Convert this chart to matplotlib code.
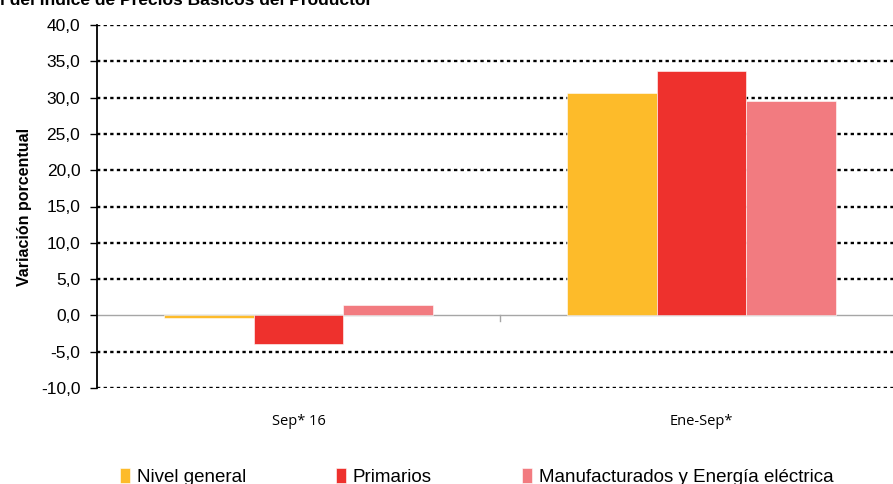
#! /usr/bin/env python3

"Variacion del Indice de Precios Basicos del Productor: barras agrupadas"

import numpy as np
import matplotlib
matplotlib.use("Agg")
import matplotlib.pyplot as plt

periodos = ["Sep* 16", "Ene-Sep*"]
series = ["Nivel general", "Primarios", "Manufacturados y Energía eléctrica"]
nivel_general = [-0.4, 30.7]
primarios = [-4.0, 33.6]
manufacturados = [1.4, 29.6]
colores = ["#FDBB2A", "#EE312D", "#F27B80"]
y_ticks = np.arange(-10, 45, 5)


def grafico():
    plt.rcParams["font.family"] = ["Liberation Sans", "DejaVu Sans"]
    fig = plt.figure(figsize=(8.93, 4.84), dpi=100)
    ax = fig.add_axes([97 / 893, 96 / 484, 806 / 893, 363 / 484])

    x = np.arange(len(periodos))
    ancho = 0.222
    valores = [nivel_general, primarios, manufacturados]
    for i, (nombre, vals) in enumerate(zip(series, valores)):
        ax.bar(x + (i - 1) * ancho, vals, ancho, color=colores[i], label=nombre,
               edgecolor="white", linewidth=0.4, zorder=3)

    ax.set_xlim(-0.5, 1.5)
    ax.set_ylim(-10, 40)
    ax.set_yticks(y_ticks)
    ax.set_yticklabels([f"{v:.1f}".replace(".", ",") for v in y_ticks], fontsize=12.5)

    # lineas de grilla punteadas, la de cero gris
    for v in y_ticks:
        if v == 0:
            ax.axhline(v, color="#A6A6A6", linewidth=1.0, zorder=2)
        else:
            ax.axhline(v, color="black", linewidth=1.7, linestyle=(0, (1.4, 1.4)), zorder=2)
    ax.plot([0.5, 0.5], [0, -0.8], color="#A6A6A6", linewidth=1.0, zorder=2)

    for s in ["top", "right", "bottom"]:
        ax.spines[s].set_visible(False)
    ax.spines["left"].set_linewidth(1.3)
    ax.tick_params(axis="y", length=5, width=1.0, pad=7)

    ax.set_xticks(x)
    ax.set_xticklabels(periodos, fontsize=10.5, family=["Open Sans", "DejaVu Sans"])
    ax.tick_params(axis="x", length=0, pad=19)

    ax.set_ylabel("Variación porcentual", fontsize=11.5, fontweight="bold", labelpad=6)

    fig.text(0.0, 0.984, "l del Índice de Precios Básicos del Productor",
             fontsize=12.5, fontweight="bold", va="bottom", ha="left")

    fig.legend(loc="center left", bbox_to_anchor=(120 / 893, 0.014), ncol=3,
               frameon=False, fontsize=13.5, handlelength=0.55, handleheight=0.8,
               handletextpad=0.35, columnspacing=4.8, borderpad=0, borderaxespad=0)

    fig.savefig("out.png", dpi=100)


if __name__ == '__main__':
    grafico()
